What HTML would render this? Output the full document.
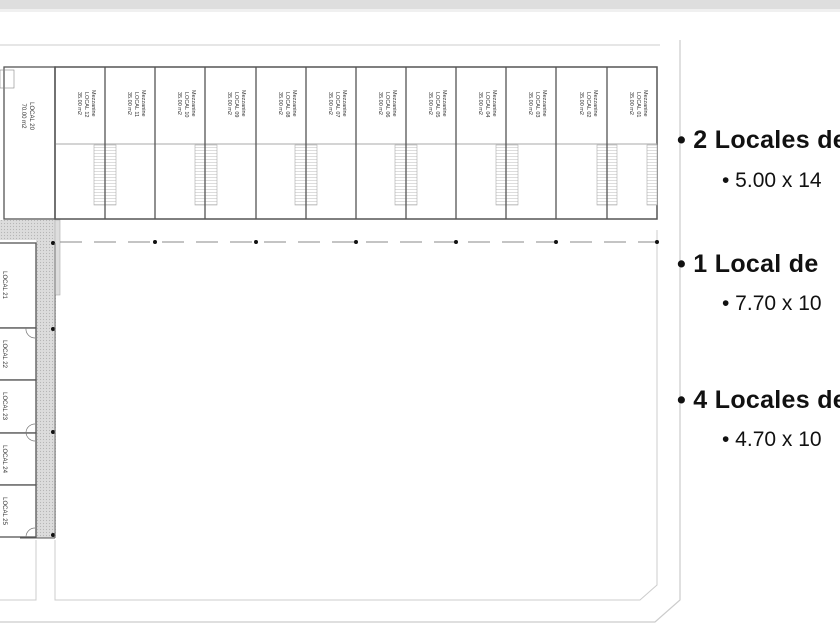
<!DOCTYPE html>
<html><head><meta charset="utf-8"><style>
body{margin:0;width:840px;height:630px;overflow:hidden;background:#fff;font-family:"Liberation Sans",sans-serif}
</style></head><body>
<svg width="840" height="630" viewBox="0 0 840 630" xmlns="http://www.w3.org/2000/svg">
<defs>
<pattern id="h" width="3" height="3" patternUnits="userSpaceOnUse"><rect width="3" height="3" fill="#dcdcdc"/><circle cx="1.5" cy="1.5" r="0.6" fill="#b5b5b5"/></pattern>
<pattern id="st" width="20" height="3" patternUnits="userSpaceOnUse"><rect width="20" height="3" fill="#fff"/><line x1="0" y1="0.5" x2="20" y2="0.5" stroke="#bbb" stroke-width="0.6"/></pattern>
</defs>
<rect x="0" y="0" width="840" height="9" fill="#dedede"/>
<rect x="0" y="9" width="840" height="3" fill="#f0f0f0"/>
<line x1="0" y1="45" x2="660" y2="45" stroke="#ccc" stroke-width="1"/>
<polyline points="680,40 680,600 655,622 0,622" fill="none" stroke="#ccc" stroke-width="1.2"/>
<polyline points="657,230 657,585 640,600 55,600 55,540" fill="none" stroke="#ccc" stroke-width="1"/>
<polyline points="36,540 36,600 0,600" fill="none" stroke="#ccc" stroke-width="1"/>
<rect x="0" y="220" width="57" height="20" fill="url(#h)"/>
<rect x="36" y="220" width="20" height="318" fill="url(#h)"/>
<rect x="55" y="220" width="5" height="75" fill="#ddd" stroke="#aaa" stroke-width="0.6"/>
<rect x="55" y="67" width="602" height="152" fill="#fff" stroke="#555" stroke-width="1.5"/>
<line x1="55" y1="144" x2="657" y2="144" stroke="#aaa" stroke-width="1"/>
<g fill="url(#st)" stroke="#aaa" stroke-width="0.6">
<rect x="94" y="145" width="22" height="60"/><rect x="195" y="145" width="22" height="60"/>
<rect x="295" y="145" width="22" height="60"/><rect x="395" y="145" width="22" height="60"/>
<rect x="496" y="145" width="22" height="60"/><rect x="597" y="145" width="20" height="60"/>
<rect x="647" y="145" width="10" height="60"/>
</g>
<g stroke="#555" stroke-width="1.3">
<line x1="105" y1="67" x2="105" y2="219"/><line x1="155" y1="67" x2="155" y2="219"/>
<line x1="205" y1="67" x2="205" y2="219"/><line x1="256" y1="67" x2="256" y2="219"/>
<line x1="306" y1="67" x2="306" y2="219"/><line x1="356" y1="67" x2="356" y2="219"/>
<line x1="406" y1="67" x2="406" y2="219"/><line x1="456" y1="67" x2="456" y2="219"/>
<line x1="506" y1="67" x2="506" y2="219"/><line x1="556" y1="67" x2="556" y2="219"/>
<line x1="607" y1="67" x2="607" y2="219"/>
</g>
<rect x="4" y="67" width="51" height="152" fill="none" stroke="#555" stroke-width="1.3"/>
<rect x="0" y="70" width="14" height="18" fill="none" stroke="#888" stroke-width="0.6"/>
<g font-size="6" fill="#333" text-anchor="middle">
<text transform="translate(30,116) rotate(90)">LOCAL 20</text>
<text transform="translate(22,116) rotate(90)">70.00 m2</text>
</g>
<g font-size="5.5" fill="#333" text-anchor="start">
<g transform="translate(92,90) rotate(90)"><text>Mezzanine</text><text x="2" y="7">LOCAL 12</text><text x="2" y="14">35.00 m2</text></g>
<g transform="translate(142,90) rotate(90)"><text>Mezzanine</text><text x="2" y="7">LOCAL 11</text><text x="2" y="14">35.00 m2</text></g>
<g transform="translate(192,90) rotate(90)"><text>Mezzanine</text><text x="2" y="7">LOCAL 10</text><text x="2" y="14">35.00 m2</text></g>
<g transform="translate(242,90) rotate(90)"><text>Mezzanine</text><text x="2" y="7">LOCAL 09</text><text x="2" y="14">35.00 m2</text></g>
<g transform="translate(293,90) rotate(90)"><text>Mezzanine</text><text x="2" y="7">LOCAL 08</text><text x="2" y="14">35.00 m2</text></g>
<g transform="translate(343,90) rotate(90)"><text>Mezzanine</text><text x="2" y="7">LOCAL 07</text><text x="2" y="14">35.00 m2</text></g>
<g transform="translate(393,90) rotate(90)"><text>Mezzanine</text><text x="2" y="7">LOCAL 06</text><text x="2" y="14">35.00 m2</text></g>
<g transform="translate(443,90) rotate(90)"><text>Mezzanine</text><text x="2" y="7">LOCAL 05</text><text x="2" y="14">35.00 m2</text></g>
<g transform="translate(493,90) rotate(90)"><text>Mezzanine</text><text x="2" y="7">LOCAL 04</text><text x="2" y="14">35.00 m2</text></g>
<g transform="translate(543,90) rotate(90)"><text>Mezzanine</text><text x="2" y="7">LOCAL 03</text><text x="2" y="14">35.00 m2</text></g>
<g transform="translate(594,90) rotate(90)"><text>Mezzanine</text><text x="2" y="7">LOCAL 02</text><text x="2" y="14">35.00 m2</text></g>
<g transform="translate(644,90) rotate(90)"><text>Mezzanine</text><text x="2" y="7">LOCAL 01</text><text x="2" y="14">35.00 m2</text></g>
</g>
<line x1="60" y1="242" x2="657" y2="242" stroke="#888" stroke-width="1" stroke-dasharray="22,12"/>
<g fill="#111"><circle cx="53" cy="243" r="2"/><circle cx="155" cy="242" r="2"/><circle cx="256" cy="242" r="2"/><circle cx="356" cy="242" r="2"/><circle cx="456" cy="242" r="2"/><circle cx="556" cy="242" r="2"/><circle cx="657" cy="242" r="2"/>
<circle cx="53" cy="329" r="2"/><circle cx="53" cy="432" r="2"/><circle cx="53" cy="535" r="2"/></g>
<g fill="#fff" stroke="#555" stroke-width="1.3">
<rect x="-2" y="243" width="38" height="85"/><rect x="-2" y="328" width="38" height="52"/>
<rect x="-2" y="380" width="38" height="53"/><rect x="-2" y="433" width="38" height="52"/>
<rect x="-2" y="485" width="38" height="52"/>
</g>
<line x1="55" y1="243" x2="55" y2="538" stroke="#777" stroke-width="1"/>
<line x1="20" y1="538" x2="55" y2="538" stroke="#555" stroke-width="1"/>
<g fill="none" stroke="#777" stroke-width="0.7">
<path d="M26,328 A9,9 0 0 0 35,338"/><path d="M26,432 A9,9 0 0 1 35,424"/><path d="M26,432 A9,9 0 0 0 35,441"/><path d="M26,537 A9,9 0 0 1 35,528"/>
</g>
<g font-size="6" fill="#333" text-anchor="middle">
<text transform="translate(3,285) rotate(90)">LOCAL 21</text>
<text transform="translate(3,354) rotate(90)">LOCAL 22</text>
<text transform="translate(3,406) rotate(90)">LOCAL 23</text>
<text transform="translate(3,459) rotate(90)">LOCAL 24</text>
<text transform="translate(3,511) rotate(90)">LOCAL 25</text>
</g>
<g font-family="Liberation Sans, sans-serif" fill="#111">
<text x="677" y="148" font-size="25" font-weight="bold" letter-spacing="0.3">• 2 Locales de</text>
<text x="722" y="187" font-size="21">• 5.00 x 14</text>
<text x="677" y="272" font-size="25" font-weight="bold" letter-spacing="0.3">• 1 Local de</text>
<text x="722" y="310" font-size="21">• 7.70 x 10</text>
<text x="677" y="408" font-size="25" font-weight="bold" letter-spacing="0.3">• 4 Locales de</text>
<text x="722" y="446" font-size="21">• 4.70 x 10</text>
</g>
</svg>
</body></html>
